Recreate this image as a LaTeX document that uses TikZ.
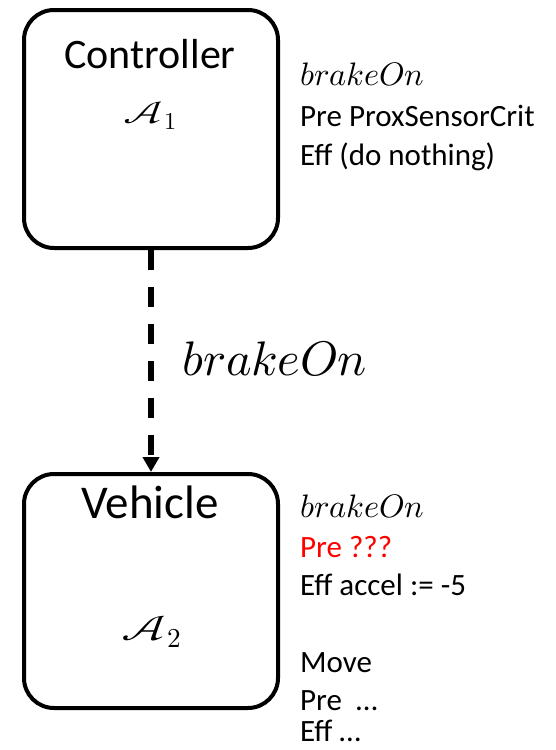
\documentclass[tikz,border=0pt]{standalone}
\usepackage{graphicx}
\usepackage{fontspec}
\usepackage{unicode-math}
\setmainfont{Carlito}
\setmathfont{Latin Modern Math}
\usetikzlibrary{arrows.meta}
\tikzset{
  agent/.style={draw, line width=4pt, rounded corners=30pt,
    minimum width=254pt, inner sep=0pt},
  agenttitle/.style={anchor=base, inner sep=0pt},
  agentname/.style={anchor=base, inner sep=0pt},
  sideline/.style={anchor=base west, inner sep=0pt, font=\fontsize{31}{37}\selectfont},
  msglabel/.style={anchor=base west, inner sep=0pt, font=\fontsize{48.5}{56}\selectfont},
  msgline/.style={line width=6pt, dash pattern=on 20pt off 17pt,
    -{Triangle[length=15pt,width=16pt]}}
}
% automaton symbol: a wide script A with a large index
\newcommand{\automaton}[1]{\scalebox{1.5}[1]{$\mathcal{A}$}\kern0.03em\raisebox{-0.22em}{\scalebox{0.78}{$#1$}}}
\newcommand{\brk}{\fontsize{32.5}{38}\selectfont$brakeOn$}
\begin{document}
\begin{tikzpicture}[x=1pt,y=-1pt]
\useasboundingbox (0,0) rectangle (556,750);

% the two agents
\node[agent, minimum height=238pt] (ctrl) at (151,129) {};
\node[agent, minimum height=234pt] (veh) at (151,591) {};

\node[agenttitle, font=\fontsize{42}{50}\selectfont] (ctrltitle) at (150,68) {Controller};
\node[agentname, font=\fontsize{31}{38}\selectfont] (ctrlname) at (150,123) {\automaton{1}};
\node[agenttitle, font=\fontsize{47}{56}\selectfont] (vehtitle) at (150,518) {Vehicle};
\node[agentname, font=\fontsize{35}{42}\selectfont] (vehname) at (151,640) {\automaton{2}};

% the shared action
\draw[msgline] (ctrl.south) -- (veh.north);
\node[msglabel] (msg) at (182,375) {$brakeOn$};

% controller side of brakeOn
\node[sideline] (c1) at (300,85) {\brk};
\node[sideline] (c2) at (300,126) {Pre ProxSensorCrit};
\node[sideline] (c3) at (300,165) {Eff (do nothing)};

% vehicle actions
\node[sideline] (v1) at (300,517) {\brk};
\node[sideline, text=red] (v2) at (300,557) {Pre ???};
\node[sideline] (v3) at (300,595) {Eff accel := -5};
\node[sideline] (v4) at (300,672) {Move};
\node[sideline] (v5) at (300,710) {Pre\ \ …};
\node[sideline] (v6) at (300,741) {Eff …};
\end{tikzpicture}
\end{document}
